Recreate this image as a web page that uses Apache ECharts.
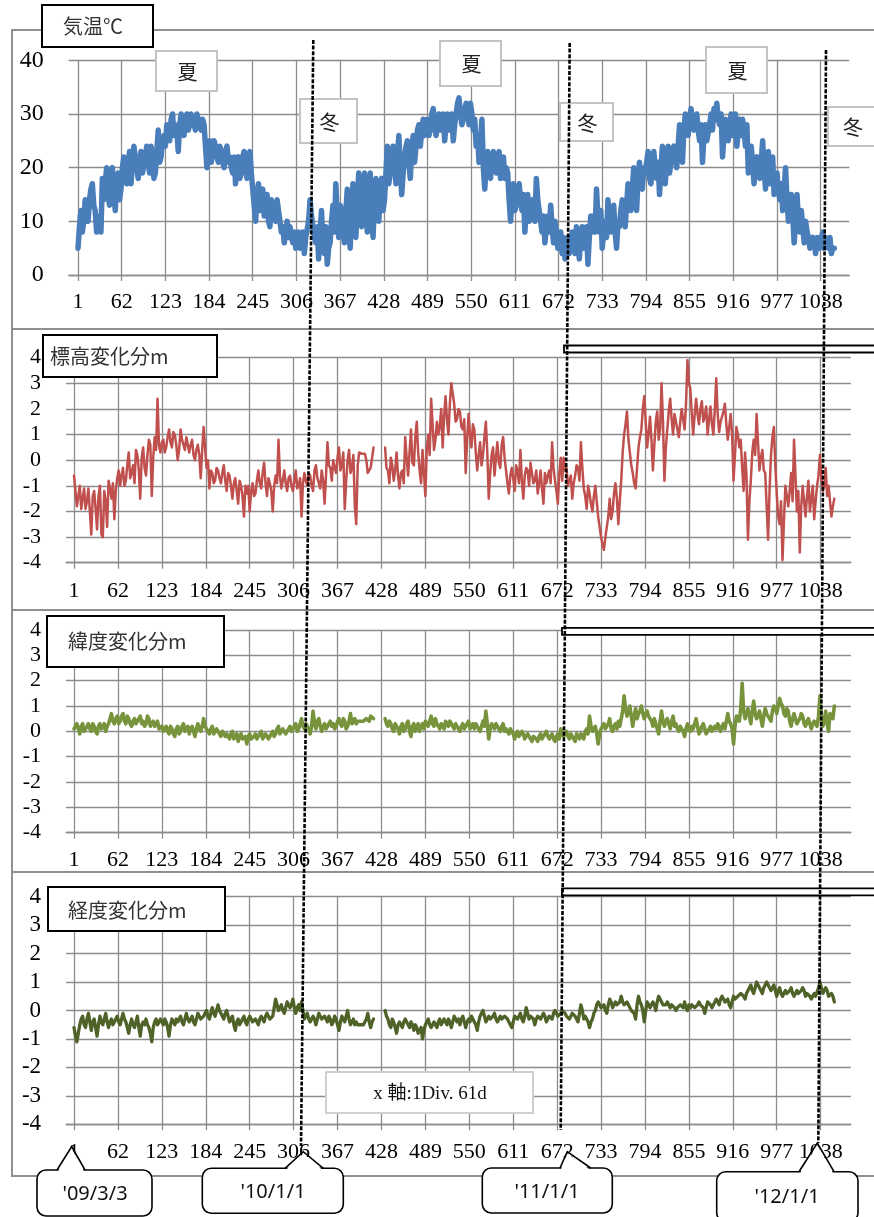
<!DOCTYPE html>
<html><head><meta charset="utf-8">
<script src="https://cdn.jsdelivr.net/npm/echarts@6/dist/echarts.min.js"></script>
<style>html,body{margin:0;padding:0;background:#fff}#c{width:874px;height:1217px}</style>
</head><body><div id="c"></div>
<script>
// ---- data: main samples every 4 days from day 1; "Mid" arrays are the samples at day 3+4i ----
const firstDay = 1;
const sampleStep = 4;
const xTickLabels = ['1','62','123','184','245','306','367','428','489','550','611','672','733','794','855','916','977','1038'];
const panelTitles = ['気温℃','標高変化分m','緯度変化分m','経度変化分m'];
const dateCallouts = ["'09/3/3","'10/1/1","'11/1/1","'12/1/1"];
const seasonLabels = ['夏','冬','夏','冬','夏','冬'];
const noteText = 'x 軸:1Div. 61d';

const tempC = [
5,12,10,13,14,17,12,9,8,14,
20,13,20,12,19,16,22,17,23,21,
22,18,23,19,24,19,22,19,27,22,
26,28,25,30,28,23,30,26,30,28,
29,27,29,27,28,20,25,23,24,21,
23,20,24,22,19,17,22,19,23,18,
23,16,10,17,14,11,15,9,13,10,
12,8,6,10,9,6,5,8,6,4,
7,14,9,6,3,12,4,2,6,13,
17,7,12,6,16,5,17,7,19,9,
19,8,19,7,18,10,18,14,24,19,
24,17,26,15,22,25,18,26,24,28,
27,26,29,27,31,26,30,28,25,30,
28,25,30,33,28,31,30,32,27,24,
21,29,16,23,18,23,19,23,20,18,
19,10,17,13,17,12,8,15,11,13,
18,12,8,6,11,13,6,8,6,4,
3,7,5,6,9,3,9,6,2,11,
11,16,8,5,10,14,8,13,5,9,
14,9,17,12,20,12,21,16,19,23,
17,23,18,15,24,17,24,21,24,20,
28,21,30,26,31,27,30,25,21,28,
25,30,31,32,28,22,29,25,30,28,
24,29,29,24,19,24,17,22,18,25,
16,23,19,15,19,14,12,20,10,15,
6,15,8,9,10,7,5,6,7,5,8,7,5,4,5];

const tempMid = [
9,8,14,10,16,13,8,11,18,17,
15,19,15,17,14,20,18,21,17,24,
20,21,19,22,21,24,18,23,21,25,
24,27,29,26,27,28,27,29,27,30,
28,30,28,29,24,23,21,25,22,24,
21,23,21,20,22,21,18,22,20,22,
19,13,15,12,16,13,10,14,11,14,
10,9,8,7,7,8,7,5,8,7,
10,11,7,9,8,6,9,5,10,8,
11,13,8,12,9,12,9,14,11,15,
12,15,11,14,12,16,12,19,17,22,
21,22,20,19,24,21,23,21,27,24,
29,28,26,30,28,28,27,30,28,27,
30,28,32,30,29,32,28,30,29,26,
25,20,21,19,22,20,22,18,22,20,
14,15,12,16,14,15,12,10,14,10,
14,10,11,9,8,9,10,5,8,7,
5,4,8,4,6,7,5,9,7,8,
8,11,12,8,7,10,11,8,10,12,
12,13,14,16,15,18,17,20,21,18,
20,20,21,20,20,21,19,23,22,24,
24,27,27,29,28,29,27,28,26,25,
28,27,29,29,30,26,27,28,26,30,
27,26,27,28,22,21,21,19,21,20,
20,17,22,18,16,17,16,14,13,11,
10,10,12,6,8,5,7,4,6,7,5,6,7,5];

const heightM = [
-0.6,-1.8,-1.0,-1.5,-1.9,-1.1,-2.9,-1.2,-2.7,-1.0,
-3.0,-1.6,-0.8,-1.5,-2.3,-0.7,-1.0,-0.3,-0.8,0.3,
-0.5,-0.9,0.2,-1.5,0.5,-0.6,0.8,-1.4,0.9,2.4,
0.3,0.8,0.5,1.2,0.5,1.0,0.0,1.2,0.6,0.9,
0.3,0.8,0.0,0.6,-0.7,1.3,-0.3,-1.1,-0.5,-0.8,
-0.4,-0.9,-0.2,-1.2,-0.6,-1.5,-0.7,-1.7,-1.0,-2.2,
-1.3,-2.0,-0.9,-1.3,-0.4,-1.1,-0.1,-1.4,-0.9,-2.0,
-0.6,0.8,-1.1,-0.4,-1.2,-0.6,-1.2,-0.4,-1.0,-2.2,
-0.5,-1.0,-0.6,-1.2,-0.2,-0.9,-0.4,-1.7,0.7,-0.3,
0.0,-0.5,0.5,-0.2,-1.9,0.0,-0.5,0.2,-2.5,0.3,
0.25,0.25,-0.5,-0.3,0.5,null,null,null,0.5,-0.4,
0.1,-0.8,0.3,-1.1,-0.4,0.9,-0.6,1.2,-0.2,1.5,
-0.4,0.4,-1.4,1.0,2.4,0.4,1.5,1.3,0.5,2.5,
1.0,3.0,2.2,1.6,1.9,1.2,-0.5,1.8,0.5,1.2,
-0.4,0.7,0.2,1.5,-1.5,0.2,-0.6,0.7,-0.3,0.9,
-0.4,-1.3,-0.3,-1.2,-0.4,0.4,-1.5,-0.3,-1.0,-0.5,
-0.8,-1.3,-0.4,-1.7,-0.9,-0.4,0.7,-0.8,-1.7,0.1,
0.1,-0.3,-0.8,-1.5,-0.6,-0.3,0.7,-1.1,-1.9,-1.3,
-2.0,-1.0,-2.2,-3.0,-3.5,-2.6,-1.5,-2.0,-0.9,-2.5,
-0.8,1.0,1.9,0.3,-0.5,-1.1,0.5,1.2,2.5,0.5,
1.7,-0.4,1.5,0.8,3.0,-0.8,1.2,2.4,1.0,1.5,
0.9,2.0,1.2,3.9,2.8,1.0,2.4,1.4,2.3,1.7,
1.0,2.1,1.0,3.2,1.1,1.7,2.2,0.8,1.8,-0.8,
1.3,0.5,-0.3,0.3,-3.1,-0.8,0.8,1.8,-0.4,0.4,
-0.5,-3.1,0.2,1.3,-1.3,-2.5,-3.9,-1.0,-1.8,-0.5,
0.8,-2.0,-3.6,-1.0,-2.2,-0.8,-1.5,-2.3,-1.0,0.2,
-1.2,-0.3,-1.0,-2.2,-1.5];

const heightMid = [
-1.2,-1.4,-1.9,-1.1,-1.6,-2.0,-1.4,-1.9,-1.4,-2.9,
-1.2,-2.6,-1.1,-0.9,-1.2,-0.4,-0.6,-1.0,-0.2,-0.7,
-0.2,0.4,-0.4,0.1,-0.3,0.2,0.6,0.1,0.4,0.6,
0.7,0.3,0.9,0.7,1.1,0.6,0.4,0.8,0.4,0.6,
0.6,0.2,0.4,0.2,0.4,0.5,0.0,-0.4,-0.9,-0.3,
-0.7,-0.5,-0.8,-0.5,-1.0,-0.9,-1.2,-0.8,-1.4,-1.0,
-1.0,-1.2,-1.4,-0.8,-0.9,-0.5,-0.9,-0.7,-1.2,-1.0,
-0.9,-0.6,-0.8,-0.9,-0.7,-1.0,-0.8,-1.1,-0.7,-0.9,
-0.8,-0.5,-1.0,-0.4,-0.7,-1.1,-0.8,-0.6,-0.2,-0.8,
-0.3,0.1,-0.4,0.3,-0.8,0.4,-0.3,-1.8,-0.2,0.25,
0.25,0.0,-0.4,0.1,null,null,null,null,-0.3,-0.9,
-0.2,-0.4,-0.6,-0.5,-0.9,0.1,0.3,-0.1,0.9,0.3,
-0.9,-0.5,0.5,0.2,1.4,0.8,1.0,2.0,1.7,1.6,
2.2,2.6,1.5,2.0,1.3,1.6,0.8,1.0,1.4,0.3,
0.2,-0.2,0.9,0.3,-0.5,0.5,0.1,-0.1,0.6,0.1,
-0.9,-0.6,-0.7,-0.2,-0.9,-0.8,-0.6,-0.4,-0.1,-0.9,
-0.4,-0.9,-1.1,-0.5,-0.6,-0.9,-0.3,-1.2,-0.5,-0.8,
-0.4,-1.0,-0.6,-0.9,-0.2,-0.8,-0.3,-1.4,-1.0,-1.7,
-1.4,-1.6,-2.6,-3.3,-3.0,-2.2,-2.3,-1.3,-1.5,-1.6,
0.3,1.4,0.8,-0.2,-0.9,-0.3,0.9,2.0,1.5,1.0,
0.8,0.6,1.9,1.2,1.5,0.5,1.9,1.6,1.8,1.2,
1.5,1.6,2.2,3.0,1.8,1.8,1.8,2.0,1.5,2.1,
1.6,1.4,2.0,1.8,1.5,1.9,1.4,1.3,1.0,0.2,
1.0,0.8,-1.2,-0.6,-1.6,0.3,0.2,0.7,0.1,-0.4,
-1.8,-1.2,0.9,-0.2,-2.2,-1.6,-2.4,-1.4,-1.2,-1.6,
-0.6,-1.2,-1.8,-1.6,-1.4,-2.0,-1.0,-1.6,-0.6,-0.7,-1.0,-1.4,-1.6,-1.8];

const latM = [
0.1,0.3,-0.1,0.3,0.1,0.3,0.0,0.2,-0.1,0.3,
0.1,0.0,0.3,0.7,0.3,0.6,0.4,0.7,0.3,0.5,
0.2,0.5,0.3,0.6,0.4,0.3,0.5,0.3,0.2,0.4,
0.1,0.0,0.2,-0.1,0.1,-0.2,0.2,0.0,0.3,0.1,
-0.1,0.2,-0.2,0.3,0.0,0.5,0.1,-0.1,0.2,-0.1,
0.1,-0.2,0.0,-0.1,-0.3,0.0,-0.2,-0.4,-0.1,-0.3,
-0.5,-0.1,-0.3,-0.1,-0.3,0.0,-0.2,-0.1,-0.3,0.0,
-0.1,0.2,0.0,0.1,0.0,0.2,0.1,0.3,0.1,0.5,
0.1,0.3,-0.1,0.8,0.1,0.5,0.0,0.3,0.1,0.4,
0.3,0.2,0.5,0.2,0.4,0.2,0.7,0.4,0.3,0.4,
0.4,0.4,0.5,0.6,0.5,null,null,null,0.5,0.2,
0.3,0.0,0.2,-0.1,0.3,0.1,0.4,-0.2,0.3,0.2,
0.0,0.3,0.4,0.2,0.6,0.2,0.3,0.1,0.2,0.4,
0.2,0.3,0.1,0.2,0.0,0.3,0.1,0.4,0.2,0.1,
0.3,0.0,0.4,0.8,-0.3,0.3,0.1,0.2,0.0,0.3,
0.1,-0.1,0.1,-0.3,0.0,-0.2,-0.1,-0.3,-0.2,-0.4,
-0.2,-0.4,-0.1,-0.3,0.0,-0.3,-0.1,-0.4,-0.1,0.1,
-0.2,0.0,-0.3,-0.2,-0.4,-0.2,-0.1,-0.3,0.1,0.6,
0.0,0.2,-0.5,0.1,0.3,0.2,0.5,0.0,0.3,0.4,
0.5,1.4,0.6,1.0,0.2,0.9,0.7,1.0,0.5,0.8,
0.6,0.2,0.3,-0.1,0.8,0.2,0.5,0.1,0.6,0.3,
0.0,0.2,-0.2,0.3,0.0,0.1,0.5,-0.1,0.2,0.1,
0.0,0.2,0.1,0.1,0.3,0.2,0.1,0.7,0.3,-0.5,
0.6,0.4,1.9,0.5,0.9,0.3,1.2,0.5,0.8,0.2,
0.9,0.6,0.4,1.0,0.7,1.3,1.0,0.6,0.8,0.2,
0.7,0.3,0.5,0.6,0.2,0.5,0.1,0.4,0.2,1.4,
0.2,0.8,0.0,0.6,1.0];

const latMid = [
0.2,0.1,0.2,0.0,0.2,0.1,0.3,0.0,0.2,0.1,
0.3,0.2,0.5,0.4,0.5,0.3,0.6,0.4,0.6,0.3,
0.4,0.3,0.5,0.3,0.2,0.6,0.2,0.4,0.3,0.1,
0.2,0.1,0.0,0.2,-0.1,0.1,-0.1,0.2,0.0,0.2,
0.1,0.0,0.1,0.1,0.2,0.2,0.0,0.1,-0.1,0.1,
-0.1,0.0,-0.2,-0.2,-0.1,-0.3,-0.1,-0.2,-0.3,-0.2,
-0.2,-0.3,-0.2,-0.3,-0.1,-0.3,-0.1,-0.3,-0.1,-0.2,
0.1,-0.1,0.1,-0.1,0.1,0.0,0.2,0.0,0.3,0.2,
0.3,0.1,0.2,0.3,0.4,0.2,0.2,0.1,0.3,0.2,
0.1,0.4,0.3,0.5,0.1,0.4,0.3,0.5,0.4,0.4,
0.4,0.5,0.4,0.6,null,null,null,null,0.3,0.4,
0.1,0.3,0.1,0.2,0.0,0.3,0.0,0.2,0.0,0.3,
0.2,0.1,0.3,0.4,0.3,0.5,0.2,0.3,0.1,0.3,
0.4,0.2,0.3,0.1,0.2,0.1,0.3,0.1,0.3,0.3,
0.1,0.2,0.2,0.3,0.1,0.2,0.3,0.1,0.2,0.0,
0.0,0.1,-0.1,-0.1,-0.2,0.0,-0.3,-0.1,-0.3,-0.2,
-0.3,-0.2,-0.3,-0.1,-0.2,-0.2,-0.3,-0.2,-0.3,-0.1,
-0.1,-0.2,-0.1,-0.3,-0.1,-0.3,-0.2,0.0,-0.1,0.2,
0.1,-0.1,-0.1,0.2,0.1,0.3,0.1,0.2,0.1,0.2,
0.8,0.9,0.8,0.6,0.6,0.5,0.8,0.7,0.7,0.6,
0.4,0.5,0.1,0.4,0.4,0.4,0.3,0.4,0.2,0.1,
0.2,0.0,0.1,0.1,0.2,0.3,0.2,0.0,0.3,-0.1,
0.1,0.0,0.2,0.3,0.0,0.3,0.4,0.4,0.1,0.2,
0.5,0.9,0.8,0.7,0.6,0.8,0.7,0.6,0.5,0.6,
0.7,0.5,0.8,0.9,1.0,1.1,0.7,0.9,0.4,0.5,
0.5,0.4,0.7,0.3,0.4,0.3,0.3,0.3,0.6,0.5,0.4,0.3,0.7,0.5];

const lonM = [
-0.6,-1.1,-0.5,-0.2,-0.6,-0.1,-0.7,-0.3,-0.9,-0.2,
-0.5,-0.1,-0.6,-0.3,-0.4,-0.2,-0.5,-0.1,-0.4,-0.8,
-0.3,-0.6,-0.2,-0.9,-0.4,-0.3,-0.6,-1.1,-0.4,-0.5,
-0.3,-0.5,-0.4,-0.9,-0.3,-0.5,-0.4,-0.2,-0.5,-0.1,
-0.4,-0.2,-0.5,-0.1,-0.3,-0.2,0.0,-0.3,0.1,-0.2,
0.2,-0.1,-0.3,0.0,-0.4,-0.2,-0.7,-0.3,-0.4,-0.2,
-0.5,-0.2,-0.4,-0.3,-0.5,-0.2,-0.4,-0.1,-0.3,-0.2,
0.4,0.0,0.2,-0.1,0.3,0.1,0.4,-0.1,0.2,0.3,
-0.3,-0.1,-0.4,-0.2,-0.5,-0.1,-0.3,-0.2,-0.4,-0.3,
-0.4,-0.3,-0.7,-0.2,-0.4,0.0,-0.5,-0.3,-0.4,-0.5,
-0.5,-0.5,-0.1,-0.6,-0.3,null,null,null,0.0,-0.3,
-0.6,-0.4,-0.8,-0.4,-0.6,-0.3,-0.5,-0.4,-0.7,-0.6,
-0.8,-1.0,-0.5,-0.3,-0.6,-0.4,-0.6,-0.3,-0.5,-0.4,
-0.3,-0.6,-0.2,-0.4,-0.5,-0.2,-0.6,-0.3,-0.2,-0.4,
-0.7,-0.2,0.0,-0.4,-0.2,-0.3,-0.1,-0.4,-0.2,-0.3,
-0.2,-0.4,-0.6,-0.2,-0.3,-0.1,-0.4,0.1,-0.3,-0.2,
-0.5,-0.2,-0.3,-0.1,-0.4,-0.2,-0.3,0.0,-0.2,-0.1,
0.0,-0.2,-0.3,-0.1,-0.2,-0.4,0.2,-0.3,-0.2,-0.6,
-0.3,0.0,0.3,0.1,0.2,-0.1,0.4,0.1,0.3,0.2,
0.5,0.2,0.3,0.1,0.0,-0.3,0.5,0.2,-0.4,0.3,
0.1,0.3,0.0,0.5,0.3,0.2,0.3,0.1,0.2,0.0,
0.1,0.2,0.3,0.0,0.1,0.2,0.1,0.3,0.2,-0.1,
0.3,0.2,0.1,0.4,0.2,0.5,0.3,0.4,0.1,0.5,
0.4,0.5,0.6,0.4,0.7,0.9,0.6,1.0,0.8,0.6,
0.9,1.0,0.7,0.9,0.5,0.8,0.5,0.7,0.6,0.8,
0.5,0.7,0.6,0.8,0.5,0.6,0.4,0.6,0.5,1.0,
0.6,0.8,0.5,0.6,0.3];

const lonMid = [
-0.9,-0.8,-0.3,-0.5,-0.3,-0.4,-0.4,-0.6,-0.5,-0.4,
-0.3,-0.4,-0.4,-0.5,-0.3,-0.4,-0.3,-0.3,-0.6,-0.5,
-0.5,-0.4,-0.6,-0.5,-0.5,-0.5,-0.8,-0.6,-0.3,-0.4,
-0.4,-0.3,-0.6,-0.5,-0.4,-0.3,-0.3,-0.4,-0.3,-0.3,
-0.3,-0.4,-0.3,-0.2,-0.3,-0.1,-0.2,-0.1,-0.1,0.0,
0.0,-0.2,-0.1,-0.2,-0.3,-0.5,-0.4,-0.5,-0.3,-0.4,
-0.3,-0.3,-0.4,-0.4,-0.3,-0.3,-0.2,-0.2,-0.3,0.1,
0.2,0.1,0.0,0.1,0.2,0.2,0.1,0.1,0.0,0.0,
-0.2,-0.3,-0.3,-0.3,-0.3,-0.2,-0.3,-0.3,-0.2,-0.5,
-0.2,-0.5,-0.4,-0.3,-0.2,-0.3,-0.4,-0.5,-0.5,-0.5,
-0.5,-0.3,-0.4,-0.4,null,null,null,null,-0.2,-0.5,
-0.3,-0.6,-0.5,-0.5,-0.4,-0.4,-0.6,-0.5,-0.5,-0.8,
-0.6,-0.7,-0.4,-0.5,-0.5,-0.5,-0.4,-0.5,-0.3,-0.5,
-0.4,-0.4,-0.3,-0.3,-0.3,-0.4,-0.4,-0.4,-0.3,-0.5,
-0.4,-0.1,-0.2,-0.3,-0.3,-0.2,-0.3,-0.3,-0.3,-0.2,
-0.3,-0.5,-0.4,-0.2,-0.2,-0.3,-0.2,-0.1,-0.2,-0.3,
-0.3,-0.2,-0.2,-0.2,-0.3,-0.2,-0.1,-0.1,-0.2,0.0,
-0.1,-0.2,-0.2,-0.1,-0.3,-0.1,0.0,-0.2,-0.4,-0.4,
-0.1,0.2,0.2,0.1,0.0,0.2,0.3,0.2,0.2,0.3,
0.3,0.2,0.2,0.0,-0.1,0.2,0.3,0.0,0.0,0.2,
0.2,0.2,0.3,0.4,0.2,0.2,0.2,0.2,0.1,0.1,
0.2,0.1,0.1,0.2,0.2,0.1,0.2,0.2,0.1,0.1,
0.3,0.1,0.3,0.3,0.4,0.4,0.3,0.2,0.3,0.4,
0.5,0.6,0.5,0.6,0.8,0.7,0.8,0.9,0.7,0.8,
1.0,0.8,0.8,0.7,0.7,0.6,0.6,0.6,0.7,0.6,
0.6,0.6,0.7,0.7,0.6,0.5,0.5,0.5,0.8,0.8,0.7,0.7,0.5,0.5];

// ---- build ----
function dayRange(a, b) { const r = []; for (let d = a; d <= b; d++) r.push(String(d)); return r; }
function mergePairs(main, mid) {
  const out = [];
  main.forEach((v, i) => {
    out.push([String(firstDay + i * sampleStep), v]);
    if (i < mid.length) out.push([String(firstDay + 2 + i * sampleStep), mid[i]]);
  });
  return out;
}
const isTick = (idx, val) => xTickLabels.indexOf(String(val)) >= 0;

const gridCol = '#8c8c8c';
const serif = 'Liberation Serif';
const cjk = "'Noto Sans CJK JP','Noto Sans CJK SC',sans-serif";

const grids = [
  {left: 68.7, top: 60.3, width: 780.6, height: 214.7, days: [-12, 1078], ymin: 0, ymax: 40, yint: 10, lm: 16, yfs: 24},
  {left: 66.1, top: 357.7, width: 784.8, height: 205, days: [-10, 1080], ymin: -4, ymax: 4, yint: 1, lm: 18, yfs: 22},
  {left: 66.1, top: 630, width: 784.8, height: 202.7, days: [-10, 1080], ymin: -4, ymax: 4, yint: 1, lm: 17, yfs: 22},
  {left: 66.1, top: 896.7, width: 784.8, height: 227.6, days: [-10, 1080], ymin: -4, ymax: 4, yint: 1, lm: 17, yfs: 23}
];
const seriesDefs = [
  {data: mergePairs(tempC, tempMid), color: '#4a7ebb', width: 5.5},
  {data: mergePairs(heightM, heightMid), color: '#c0504d', width: 2.5},
  {data: mergePairs(latM, latMid), color: '#77933c', width: 3.6},
  {data: mergePairs(lonM, lonMid), color: '#4f6228', width: 3.3}
];

const option = {
  animation: false,
  backgroundColor: '#fff',
  grid: grids.map(g => ({left: g.left, top: g.top, width: g.width, height: g.height, containLabel: false})),
  xAxis: grids.map((g, k) => ({
    type: 'category', gridIndex: k, boundaryGap: false,
    data: dayRange(g.days[0], g.days[1]),
    axisLine: {show: true, onZero: false, lineStyle: {color: gridCol, width: 1.3}},
    axisTick: {show: true, interval: isTick, length: 6, lineStyle: {color: gridCol, width: 1.3}},
    axisLabel: {show: true, interval: isTick, color: '#000', fontFamily: serif, fontSize: 22, margin: g.lm},
    splitLine: {show: true, interval: isTick, lineStyle: {color: gridCol, width: 1.3}}
  })),
  yAxis: grids.map((g, k) => ({
    type: 'value', gridIndex: k, min: g.ymin, max: g.ymax, interval: g.yint,
    axisLine: {show: false}, axisTick: {show: false},
    axisLabel: {color: '#000', fontFamily: serif, fontSize: g.yfs, margin: 25},
    splitLine: {show: true, lineStyle: {color: gridCol, width: 1.3}}
  })),
  series: seriesDefs.map((s, k) => ({
    type: 'line', xAxisIndex: k, yAxisIndex: k, data: s.data,
    showSymbol: false, symbol: 'none', connectNulls: false, z: 3,
    lineStyle: {color: s.color, width: s.width, cap: 'round', join: 'round'}
  })),
  graphic: []
};

const G = option.graphic;
// panel frames
[[30, 299], [329, 281], [610, 262], [872, 304]].forEach(([y, h]) => {
  G.push({type: 'rect', z: 1, shape: {x: 12, y: y, width: 880, height: h}, style: {fill: 'none', stroke: '#8f8f8f', lineWidth: 2}});
});
// title boxes
const titleBoxes = [[42, 5, 111, 42, 63, 26], [43, 335, 174, 42, 50, 356], [47, 616, 177, 51, 68, 641], [48, 887, 177, 44, 68, 910]];
titleBoxes.forEach((b, k) => {
  G.push({type: 'rect', z: 100, shape: {x: b[0], y: b[1], width: b[2], height: b[3]}, style: {fill: '#fff', stroke: '#000', lineWidth: 2}});
  G.push({type: 'text', z: 101, x: b[4], y: b[5], style: {text: panelTitles[k], font: '20px ' + cjk, fill: '#333', verticalAlign: 'middle', align: 'left'}});
});
// season boxes
const seasonBoxes = [[156, 51, 61, 40], [300, 99, 57, 44], [440, 41, 61, 45], [560, 103, 53, 38], [706, 47, 61, 46], [828, 107, 60, 39]];
seasonBoxes.forEach((b, k) => {
  G.push({type: 'rect', z: 100, shape: {x: b[0], y: b[1], width: b[2], height: b[3]}, style: {fill: '#fff', stroke: '#c4c4c4', lineWidth: 2}});
  const tx = k === 5 ? b[0] + 25 : b[0] + b[2] / 2 + 1;
  G.push({type: 'text', z: 101, x: tx, y: b[1] + b[3] / 2 + 1, style: {text: seasonLabels[k], font: '20px ' + cjk, fill: '#222', verticalAlign: 'middle', align: 'center'}});
});
// double bars
[[564, 345.5], [562, 627.8], [562, 888.3]].forEach(([x, y]) => {
  G.push({type: 'rect', z: 100, shape: {x: x, y: y, width: 330, height: 7}, style: {fill: '#fff', stroke: '#000', lineWidth: 1.8}});
});
// note box
G.push({type: 'rect', z: 100, shape: {x: 326, y: 1072, width: 207, height: 41}, style: {fill: '#fff', stroke: '#cfcfcf', lineWidth: 2}});
G.push({type: 'text', z: 101, x: 430, y: 1094, style: {text: noteText, font: "19px 'Liberation Serif','Noto Sans CJK JP',serif", fill: '#111', verticalAlign: 'middle', align: 'center'}});
// dotted lines
[[313.3, 40, 301, 1146], [569.7, 43, 560.7, 1130], [826, 50, 818.3, 1143]].forEach(l => {
  G.push({type: 'line', z: 110, shape: {x1: l[0], y1: l[1], x2: l[2], y2: l[3]}, style: {stroke: '#000', lineWidth: 2.6, lineDash: [4, 1.6]}});
});
// date callouts: [boxX, boxY, w, h, baseL, apexX, apexY, baseR, textX, textY]
const callouts = [
  [37, 1170, 115, 46, 57, 71.7, 1146.5, 85, 95, 1194],
  [202.3, 1168.3, 141, 45, 285, 303.3, 1151.7, 323.3, 273, 1192],
  [482.3, 1168, 130, 45, 560, 567.3, 1151.7, 590.7, 547, 1192],
  [716.7, 1171.7, 141.3, 50, 799, 817.3, 1143, 834, 787, 1197]
];
callouts.forEach((c, k) => {
  G.push({type: 'rect', z: 120, shape: {x: c[0], y: c[1], width: c[2], height: c[3], r: 9}, style: {fill: '#fff', stroke: '#000', lineWidth: 1.6}});
  G.push({type: 'polygon', z: 121, shape: {points: [[c[4] + 1, c[1] + 1.5], [c[5], c[6] + 2], [c[7] - 1, c[1] + 1.5]]}, style: {fill: '#fff'}});
  G.push({type: 'polyline', z: 122, shape: {points: [[c[4], c[1]], [c[5], c[6]], [c[7], c[1]]]}, style: {fill: 'none', stroke: '#000', lineWidth: 1.6}});
  G.push({type: 'text', z: 123, x: c[8], y: c[9], style: {text: dateCallouts[k], font: "20px 'Noto Sans','DejaVu Sans',sans-serif", fill: '#111', verticalAlign: 'middle', align: 'center'}});
});

const chart = echarts.init(document.getElementById('c'), null, {renderer: 'canvas', width: 874, height: 1217});
chart.setOption(option);
</script>
</body></html>
